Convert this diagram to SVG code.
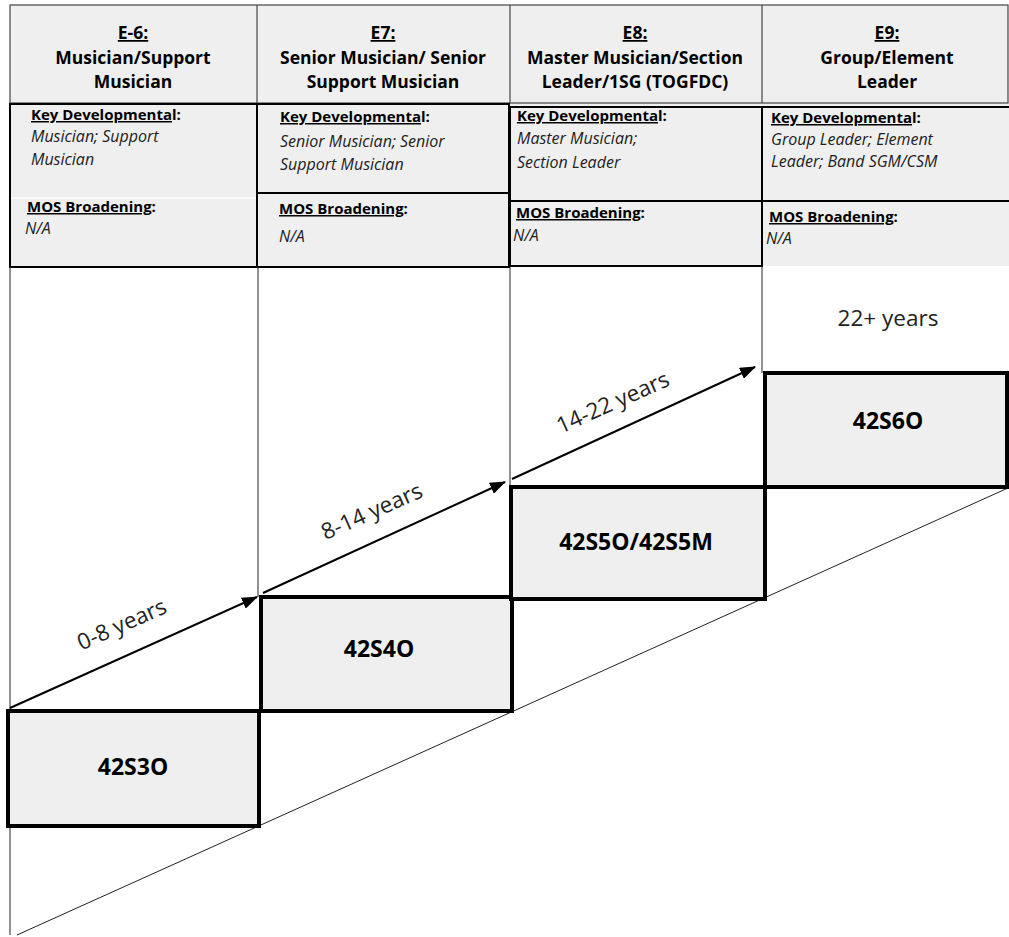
<svg xmlns="http://www.w3.org/2000/svg" width="1009" height="937" viewBox="0 0 1009 937">
<style>
text{font-family:"Open Sans","Noto Sans","Liberation Sans",sans-serif;fill:#000}
.h{font-size:17.5px;font-weight:bold;text-anchor:middle}
.u{text-decoration:underline}
.k{font-size:15px;font-weight:bold}
.i{font-size:16px;font-style:italic;fill:#222}
.cell{fill:#efefef;stroke:#000;stroke-width:2}
.thin{stroke:#222;stroke-width:1;fill:none}
.box{fill:#efefef;stroke:#000;stroke-width:4}
.bl{font-size:23px;font-weight:bold;text-anchor:middle}
.yr{font-size:22.5px;text-anchor:middle;fill:#222}
.arr{stroke:#000;stroke-width:2;fill:none;marker-end:url(#ah)}
</style>
<defs>
<marker id="ah" markerUnits="userSpaceOnUse" markerWidth="16" markerHeight="12" refX="15" refY="6" orient="auto">
<path d="M0,0 L16,6 L0,12 z" fill="#000"/>
</marker>
</defs>
<rect width="1009" height="937" fill="#fff"/>

<g id="header">
<rect x="510" y="103" width="499" height="5" fill="#efefef"/>
<rect x="10" y="5" width="998" height="98" fill="#efefef" stroke="#444" stroke-width="1.2"/>
<line x1="257" y1="5" x2="257" y2="103" stroke="#444" stroke-width="1.2"/>
<line x1="510" y1="5" x2="510" y2="103" stroke="#444" stroke-width="1.2"/>
<line x1="762" y1="5" x2="762" y2="103" stroke="#444" stroke-width="1.2"/>
</g>

<g id="col-e6">
<text class="h" x="133" y="39"><tspan class="u">E-6:</tspan></text>
<text class="h" x="133" y="64">Musician/Support</text>
<text class="h" x="133" y="88">Musician</text>
<rect class="cell" x="10" y="104" width="247" height="163"/>
<line x1="11" y1="198" x2="256" y2="198" stroke="#fff" stroke-width="1.5"/>
<text class="k" x="31" y="120"><tspan class="u">Key Developmenta</tspan>l:</text>
<text class="i" x="31" y="142">Musician; Support</text>
<text class="i" x="31" y="165">Musician</text>
<text class="k" x="27" y="212"><tspan class="u">MOS Broadening</tspan>:</text>
<text class="i" x="25" y="234">N/A</text>
</g>

<g id="col-e7">
<text class="h" x="383" y="39"><tspan class="u">E7:</tspan></text>
<text class="h" x="383" y="64">Senior Musician/ Senior</text>
<text class="h" x="383" y="88">Support Musician</text>
<rect class="cell" x="257" y="104" width="252" height="89"/>
<rect class="cell" x="257" y="193" width="252" height="74"/>
<text class="k" x="280" y="122"><tspan class="u">Key Developmenta</tspan>l:</text>
<text class="i" x="280" y="147">Senior Musician; Senior</text>
<text class="i" x="280" y="170">Support Musician</text>
<text class="k" x="279" y="214"><tspan class="u">MOS Broadening</tspan>:</text>
<text class="i" x="279" y="242">N/A</text>
</g>

<g id="col-e8">
<text class="h" x="635" y="39"><tspan class="u">E8:</tspan></text>
<text class="h" x="635" y="64">Master Musician/Section</text>
<text class="h" x="635" y="88">Leader/1SG (TOGFDC)</text>
<rect class="cell" x="510" y="107" width="252" height="94"/>
<rect class="cell" x="510" y="201" width="252" height="65"/>
<text class="k" x="517" y="121"><tspan class="u">Key Developmenta</tspan>l:</text>
<text class="i" x="517" y="144">Master Musician;</text>
<text class="i" x="517" y="168">Section Leader</text>
<text class="k" x="516" y="218"><tspan class="u">MOS Broadening</tspan>:</text>
<text class="i" x="513" y="241">N/A</text>
</g>

<g id="col-e9">
<text class="h" x="887" y="39"><tspan class="u">E9:</tspan></text>
<text class="h" x="887" y="64">Group/Element</text>
<text class="h" x="887" y="88">Leader</text>
<rect x="762" y="107" width="247" height="159" fill="#efefef"/>
<path d="M1009,107 H762 V266" fill="none" stroke="#000" stroke-width="2"/>
<line x1="762" y1="201" x2="1009" y2="201" stroke="#000" stroke-width="2"/>
<text class="k" x="771" y="123"><tspan class="u">Key Developmenta</tspan>l:</text>
<text class="i" x="771" y="145">Group Leader; Element</text>
<text class="i" x="771" y="167">Leader; Band SGM/CSM</text>
<text class="k" x="769" y="222"><tspan class="u">MOS Broadening</tspan>:</text>
<text class="i" x="766" y="244">N/A</text>
</g>

<g id="connectors">
<line class="thin" x1="10" y1="267" x2="10" y2="711"/>
<line class="thin" x1="10" y1="826" x2="10" y2="935"/>
<line class="thin" x1="258" y1="267" x2="258" y2="597"/>
<line class="thin" x1="510" y1="266" x2="510" y2="487"/>
<line class="thin" x1="762" y1="266" x2="762" y2="373"/>
<line class="thin" x1="17" y1="935" x2="1008" y2="488"/>
<line class="arr" x1="10" y1="708" x2="257" y2="597"/>
<line class="arr" x1="263" y1="593" x2="505" y2="482"/>
<line class="arr" x1="512" y1="479" x2="755" y2="367"/>
</g>

<g id="labels">
<text class="yr" transform="translate(122,625) rotate(-24)" y="7">0-8 years</text>
<text class="yr" transform="translate(372,512) rotate(-24)" y="7">8-14 years</text>
<text class="yr" transform="translate(613,403) rotate(-24)" y="7">14-22 years</text>
<text class="yr" x="888" y="326">22+ years</text>
</g>

<g id="n-42S3O">
<rect class="box" x="8" y="711" width="251" height="115"/>
<text class="bl" x="133" y="775">42S3O</text>
</g>
<g id="n-42S4O">
<rect class="box" x="261" y="597" width="251" height="114"/>
<text class="bl" x="379" y="657">42S4O</text>
</g>
<g id="n-42S5O">
<rect class="box" x="511" y="487" width="254" height="112"/>
<text class="bl" x="636" y="550">42S5O/42S5M</text>
</g>
<g id="n-42S6O">
<rect class="box" x="765" y="373" width="242" height="114"/>
<text class="bl" x="888" y="429">42S6O</text>
</g>
</svg>
